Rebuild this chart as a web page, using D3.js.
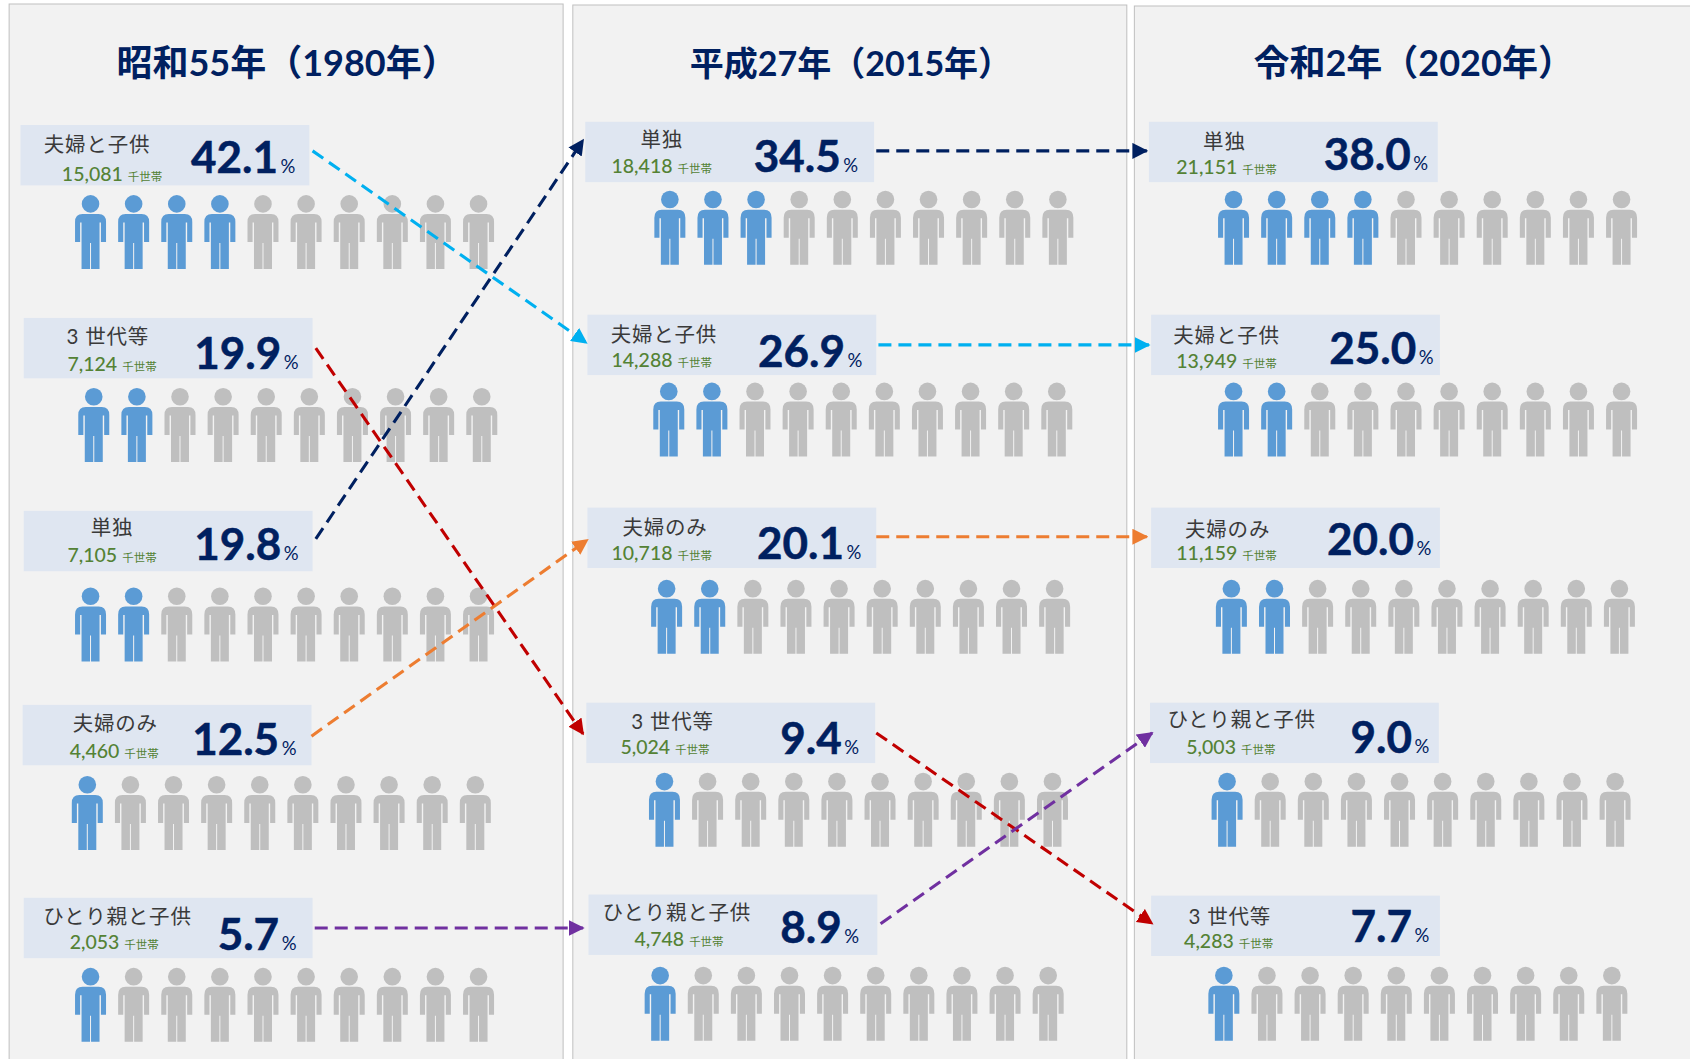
<!DOCTYPE html>
<html lang="ja"><head><meta charset="utf-8">
<script src="https://cdn.jsdelivr.net/npm/d3@7/dist/d3.min.js"></script>
<style>html,body{margin:0;padding:0;background:#fff}svg{display:block}text{font-family:Lato,"Noto Sans CJK JP",sans-serif}</style>
</head><body><svg id="c" width="1690" height="1059"></svg>
<script>
// ---- data ----
const panelTitles = ["昭和55年（1980年）","平成27年（2015年）","令和2年（2020年）"];
const rowLabels = [
  ["夫婦と子供","3 世代等","単独","夫婦のみ","ひとり親と子供"],
  ["単独","夫婦と子供","夫婦のみ","3 世代等","ひとり親と子供"],
  ["単独","夫婦と子供","夫婦のみ","ひとり親と子供","3 世代等"]
];
const rowCounts = [
  ["15,081","7,124","7,105","4,460","2,053"],
  ["18,418","14,288","10,718","5,024","4,748"],
  ["21,151","13,949","11,159","5,003","4,283"]
];
const rowPercents = [
  ["42.1","19.9","19.8","12.5","5.7"],
  ["34.5","26.9","20.1","9.4","8.9"],
  ["38.0","25.0","20.0","9.0","7.7"]
];
const rowFilled = [[4,2,2,1,1],[3,2,2,1,1],[4,2,2,1,1]];
const linkColors = {"夫婦と子供":"#00B0F0","単独":"#002060","3 世代等":"#C00000","夫婦のみ":"#ED7D31","ひとり親と子供":"#7030A0"};

// ---- layout (measured on the 1568-wide view, mapped by scale k) ----
const k = d3.scaleLinear().domain([0,1568]).range([0,1690]);
const panelX = [[8,522],[531,1045],[1052,1575]];
const panelTop = [4,5,6];
const titleX = [108,640,1163];
const titleSize = [36,34,36];
const boxX = [[19,22,22,21,22],[543,545,545,544,546],[1066,1068,1068,1067,1068]];
const boxY = [[116,295,474,654,833],[113,292,471,652,830],[113,292,471,652,831]];
const peopleX = [[84,87,84,81,84],[621.5,620.5,618.5,616.5,612.5],[1144.5,1144.5,1142.5,1138.5,1135.5]];
const peopleY = [[181,360,545,720,898],[177,355,538,717,897],[177,355,538,717,897]];
const labelCx = [[90,100,104,107,109],[614,616,617,624,628],[1136,1138,1139,1152,1141]];
const labelCy = [[134,312,489,671,850],[129,310,489,669,847],[131,311,491,668,850]];
const countCx = [[104,104,104,106,106],[614,614,614,617,630],[1138,1138,1138,1142,1140]];
const countCy = [[161,338,515,697,874],[154,334,513,693,871],[155,335,513,693,873]];
const pctEnd = [[258,261,261,259,259],[780,784,783,781,781],[1309,1314,1312,1310,1310]];
const pctCy = [[146,328,505,686,867],[145,326,504,685,861],[143,323,501,684,860]];
const linkStartX = [[290,293,293,289,292],[813,815,813,813,817]];
const linkStartY = [[140,323,500,683,861],[140,320,498,680,857]];
const linkEndX = [[544,541,541,545,541],[1064,1066,1064,1069,1069]];
const linkEndY = [[318,681,130,501,861],[140,320,498,857,680]];
const boxW = k(268), boxH = k(56);

const svg = d3.select("#c");
const personBody = "M-15.5,47V27Q-15.5,19 -8,19H8Q15.5,19 15.5,27V47H10.4V27.5H9V47V74H.5V48H-.5V74H-9V47V27.5H-10.4V47Z";

// panels
svg.append("g").selectAll("rect").data(panelX).join("rect")
  .attr("x",d=>k(d[0])+.5).attr("width",d=>k(d[1])-k(d[0]))
  .attr("y",(d,i)=>panelTop[i]).attr("height",(d,i)=>1059-panelTop[i]+5)
  .attr("fill","#F2F2F2").attr("stroke","#BFBFBF").attr("stroke-width",1);

svg.append("g").selectAll("text").data(panelTitles).join("text")
  .attr("x",(d,i)=>k(titleX[i])).attr("y",76)
  .attr("font-size",(d,i)=>titleSize[i]).attr("font-weight",700).attr("fill","#002060").text(d=>d);

// rows
const rows = panelTitles.flatMap((t,p)=>rowLabels[p].map((label,r)=>({p,r,label,
  count:rowCounts[p][r],pct:rowPercents[p][r],filled:rowFilled[p][r]})));
const row = svg.append("g").selectAll("g").data(rows).join("g");

row.append("rect").attr("x",d=>k(boxX[d.p][d.r])).attr("y",d=>k(boxY[d.p][d.r]))
  .attr("width",boxW).attr("height",boxH).attr("fill","#DFE6F1");

row.append("text").attr("x",d=>k(labelCx[d.p][d.r])).attr("y",d=>k(labelCy[d.p][d.r])+7.5)
  .attr("text-anchor","middle").attr("font-size",20.5).attr("fill","#3A3A3A")
  .attr("letter-spacing",.8).text(d=>d.label);

const ct = row.append("text").attr("x",d=>k(countCx[d.p][d.r])).attr("y",d=>k(countCy[d.p][d.r])+7)
  .attr("text-anchor","middle").attr("fill","#548235");
ct.append("tspan").attr("font-size",19.5).attr("font-weight",500).text(d=>d.count);
ct.append("tspan").attr("font-size",11.5).attr("dx",5).text("千世帯");

row.append("text").attr("x",d=>k(pctEnd[d.p][d.r])).attr("y",d=>k(pctCy[d.p][d.r])+15.5)
  .attr("text-anchor","end").attr("font-size",44).attr("font-weight",700)
  .attr("stroke","#002060").attr("stroke-width",.5).attr("fill","#002060").text(d=>d.pct);
row.append("text").attr("x",d=>k(pctEnd[d.p][d.r])+2.5).attr("y",d=>k(pctCy[d.p][d.r])+15.5)
  .attr("font-size",18.5).attr("fill","#002060").text("%");

// pictograms
const slot = d3.scaleLinear().domain([0,1]).range([0,k(40)]);
const person = row.selectAll("g.p").data(d=>d3.range(10).map(i=>({i,d,on:i<d.filled}))).join("g")
  .attr("class","p")
  .attr("transform",o=>`translate(${k(peopleX[o.d.p][o.d.r])+slot(o.i)},${k(peopleY[o.d.p][o.d.r])})`)
  .attr("fill",o=>o.on?"#5B9BD5":"#BFBFBF");
person.append("circle").attr("cy",8.8).attr("r",8.8);
person.append("path").attr("d",personBody);

// arrows between consecutive panels
const defs = svg.append("defs");
const names = Object.keys(linkColors);
names.forEach((name,i)=>{
  defs.append("marker").attr("id","m"+i).attr("viewBox","0 0 10 10").attr("refX",9).attr("refY",5)
    .attr("markerUnits","userSpaceOnUse").attr("markerWidth",16).attr("markerHeight",16).attr("orient","auto")
    .append("path").attr("d","M0,0L10,5L0,10Z").attr("fill",linkColors[name]);
});
const links = [0,1].flatMap(p=>rowLabels[p].map((label,r)=>({label,p,r})));
svg.append("g").selectAll("line").data(links).join("line")
  .attr("x1",d=>k(linkStartX[d.p][d.r]))
  .attr("y1",d=>k(linkStartY[d.p][d.r]))
  .attr("x2",d=>k(linkEndX[d.p][d.r]))
  .attr("y2",d=>k(linkEndY[d.p][d.r]))
  .attr("stroke",d=>linkColors[d.label]).attr("stroke-width",3.1).attr("stroke-dasharray","13 7")
  .attr("marker-end",d=>`url(#m${names.indexOf(d.label)})`);
</script></body></html>
